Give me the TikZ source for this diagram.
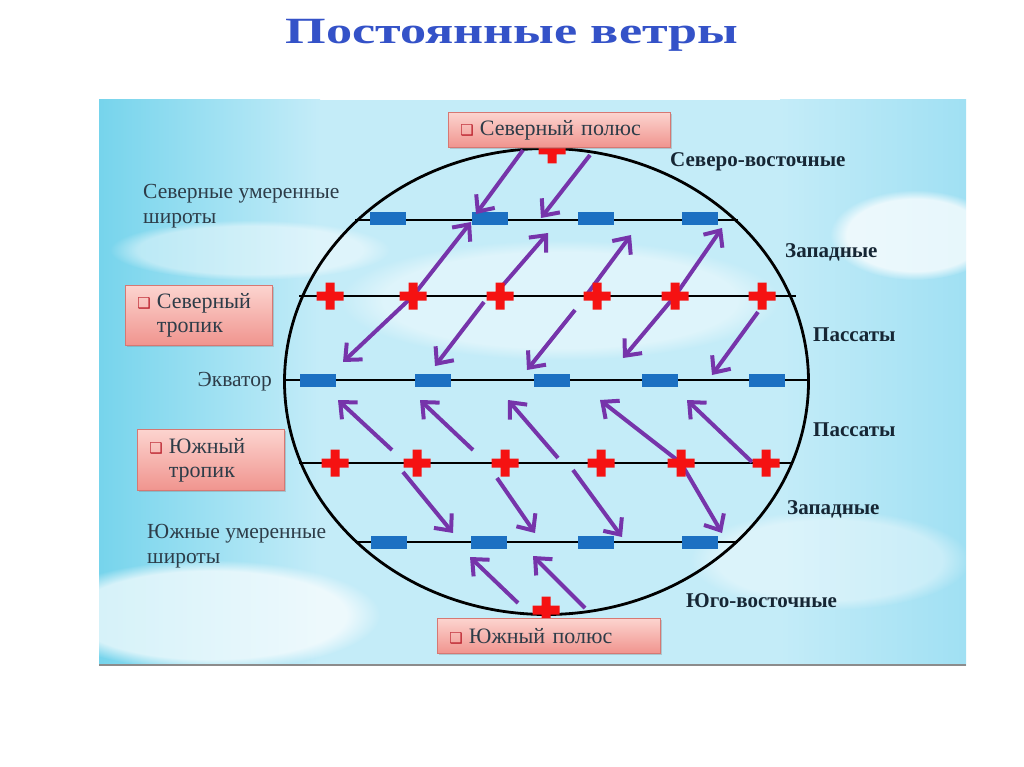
\documentclass[tikz,border=0pt]{standalone}
\usepackage{fontspec}
\usepackage{graphicx}
\setmainfont{Liberation Serif}
\newfontfamily\djv{DejaVu Sans}
\usetikzlibrary{arrows.meta,shadows,fadings,shapes.geometric}
\definecolor{windc}{RGB}{118,52,170}
\definecolor{lowblue}{RGB}{28,112,194}
\definecolor{hired}{RGB}{245,18,18}
\definecolor{skyA}{RGB}{118,212,236}
\definecolor{skyB}{RGB}{196,236,248}
\definecolor{skyC}{RGB}{160,224,243}
\definecolor{pinktop}{RGB}{252,212,207}
\definecolor{pinkbot}{RGB}{240,148,142}
\definecolor{pinkline}{RGB}{214,120,115}
\definecolor{labeltext}{RGB}{45,60,72}
\definecolor{boldtext}{RGB}{22,38,52}
\definecolor{titleblue}{RGB}{52,82,200}
\definecolor{bulletred}{RGB}{185,28,40}
\begin{document}
\begin{tikzpicture}[x=1pt,y=-1pt,
  wind/.style={draw=windc, line width=4pt, -{Straight Barb[length=13pt,width=23pt,line width=4pt]}},
  lat/.style={draw=black, line width=2.6pt},
  low/.style={fill=lowblue, minimum width=36pt, minimum height=13pt, inner sep=0pt},
  hi/.style={minimum size=27pt, inner sep=0pt},
  pinkbox/.style={draw=pinkline, line width=0.8pt, top color=pinktop, bottom color=pinkbot,
     drop shadow={shadow xshift=2pt, shadow yshift=-2pt, opacity=0.35},
     inner xsep=12pt, inner ysep=0pt, align=left, anchor=north west, text=labeltext,
     font=\fontsize{22}{24}\selectfont},
  leftlab/.style={text=labeltext, align=left, inner sep=0pt, font=\fontsize{21.5}{25}\selectfont},
  rightlab/.style={text=boldtext, inner sep=0pt, anchor=west, font=\bfseries\fontsize{21}{25}\selectfont}
]
\newcommand{\blt}{{\djv\fontsize{15}{15}\selectfont\color{bulletred}❑}\hspace{6pt}}
\newcommand{\bltsp}{\phantom{\blt}}
\useasboundingbox (0,0) rectangle (1024,767);
\fill[white] (0,0) rectangle (1024,767);
% sky panel
\fill[skyB] (99,100) rectangle (966,665);
\shade[left color=skyA, right color=skyB] (99,100) rectangle (320,665);
\shade[left color=skyB, right color=skyC] (780,100) rectangle (966,665);
\fill[white, opacity=0.7, path fading=circle with fuzzy edge 20 percent] (210,615) ellipse [x radius=170pt, y radius=55pt];
\fill[white, opacity=0.75, path fading=circle with fuzzy edge 20 percent] (915,235) ellipse [x radius=85pt, y radius=45pt];
\fill[white, opacity=0.45, path fading=circle with fuzzy edge 20 percent] (250,250) ellipse [x radius=140pt, y radius=30pt];
\fill[white, opacity=0.45, path fading=circle with fuzzy edge 20 percent] (560,300) ellipse [x radius=220pt, y radius=60pt];
\fill[white, opacity=0.4, path fading=circle with fuzzy edge 20 percent] (830,560) ellipse [x radius=140pt, y radius=50pt];
\draw[black!45, line width=2pt] (99,665) -- (966,665);

% title
\node[font=\bfseries\fontsize{37}{40}\selectfont, text=titleblue, anchor=base, inner sep=0pt] (title) at (512,44)
  {\scalebox{1.41}[1]{Постоянные ветры}};

% globe
\node[draw=black, line width=2.8pt, ellipse, minimum width=524pt, minimum height=466pt, inner sep=0pt] (globe) at (546.5,381.5) {};

% latitude lines
\coordinate (ntW) at (355,220);  \coordinate (ntE) at (738,220);
\coordinate (ntrW) at (299,296); \coordinate (ntrE) at (796,296);
\coordinate (eqW) at (284,380);  \coordinate (eqE) at (810,380);
\coordinate (strW) at (299,463); \coordinate (strE) at (793,463);
\coordinate (stW) at (355,542);  \coordinate (stE) at (738,542);
\draw[lat] (ntW) -- (ntE);
\draw[lat] (ntrW) -- (ntrE);
\draw[lat] (eqW) -- (eqE);
\draw[lat] (strW) -- (strE);
\draw[lat] (stW) -- (stE);

% lows
\node[low] (nl1) at (388,219) {};
\node[low] (nl2) at (490,219) {};
\node[low] (nl3) at (596,219) {};
\node[low] (nl4) at (700,219) {};
\node[low] (el1) at (318,380) {};
\node[low] (el2) at (433,380) {};
\node[low] (el3) at (552,380) {};
\node[low] (el4) at (660,380) {};
\node[low] (el5) at (767,380) {};
\node[low] (sl1) at (389,542) {};
\node[low] (sl2) at (489,542) {};
\node[low] (sl3) at (596,542) {};
\node[low] (sl4) at (700,542) {};

% highs (positions)
\node[hi] (np) at (552,150) {};
\node[hi] (nh1) at (330,296) {};
\node[hi] (nh2) at (413,296) {};
\node[hi] (nh3) at (500,296) {};
\node[hi] (nh4) at (597,296) {};
\node[hi] (nh5) at (675,296) {};
\node[hi] (nh6) at (762,296) {};
\node[hi] (sh1) at (335,463) {};
\node[hi] (sh2) at (417,463) {};
\node[hi] (sh3) at (505,463) {};
\node[hi] (sh4) at (601,463) {};
\node[hi] (sh5) at (681,463) {};
\node[hi] (sh6) at (766,463) {};
\node[hi] (sp) at (546,610) {};

% wind end points
\coordinate (pa1) at (523,150); \coordinate (pa1t) at (476,214);
\coordinate (pa2) at (590,155); \coordinate (pa2t) at (541,218);
\coordinate (w1t) at (471,222);
\coordinate (w2) at (503,285);  \coordinate (w2t) at (548,233);
\coordinate (w3) at (588,293);  \coordinate (w3t) at (631,235);
\coordinate (w4t) at (722,228);
\coordinate (t1t) at (343,362);
\coordinate (t2) at (484,302);  \coordinate (t2t) at (435,366);
\coordinate (t3) at (575,310);  \coordinate (t3t) at (527,370);
\coordinate (t4t) at (623,358);
\coordinate (t5) at (758,312);  \coordinate (t5t) at (712,375);
\coordinate (s1) at (392,450);  \coordinate (s1t) at (338,400);
\coordinate (s2) at (473,450);  \coordinate (s2t) at (420,400);
\coordinate (s3) at (558,458);  \coordinate (s3t) at (508,400);
\coordinate (s4t) at (600,400);
\coordinate (s5) at (752,462);  \coordinate (s5t) at (687,400);
\coordinate (v1) at (403,472);  \coordinate (v1t) at (453,533);
\coordinate (v2) at (497,478);  \coordinate (v2t) at (535,533);
\coordinate (v3) at (573,470);  \coordinate (v3t) at (622,537);
\coordinate (v4t) at (722,533);
\coordinate (q1) at (518,603);  \coordinate (q1t) at (470,557);
\coordinate (q2) at (585,608);  \coordinate (q2t) at (533,556);

% winds
\draw[wind] (pa1) -- (pa1t);
\draw[wind] (pa2) -- (pa2t);
\draw[wind] (nh2.center) -- (w1t);
\draw[wind] (w2) -- (w2t);
\draw[wind] (w3) -- (w3t);
\draw[wind] (nh5.center) -- (w4t);
\draw[wind] (nh2.center) -- (t1t);
\draw[wind] (t2) -- (t2t);
\draw[wind] (t3) -- (t3t);
\draw[wind] (nh5.center) -- (t4t);
\draw[wind] (t5) -- (t5t);
\draw[wind] (s1) -- (s1t);
\draw[wind] (s2) -- (s2t);
\draw[wind] (s3) -- (s3t);
\draw[wind] (sh5.center) -- (s4t);
\draw[wind] (s5) -- (s5t);
\draw[wind] (v1) -- (v1t);
\draw[wind] (v2) -- (v2t);
\draw[wind] (v3) -- (v3t);
\draw[wind] (sh5.center) -- (v4t);
\draw[wind] (q1) -- (q1t);
\draw[wind] (q2) -- (q2t);

% red crosses drawn on the high nodes
\foreach \n in {np,nh1,nh2,nh3,nh4,nh5,nh6,sh1,sh2,sh3,sh4,sh5,sh6,sp} {
  \fill[hired] ([xshift=-13.5pt,yshift=-4.5pt]\n.center) rectangle ([xshift=13.5pt,yshift=4.5pt]\n.center)
               ([xshift=-4.5pt,yshift=-13.5pt]\n.center) rectangle ([xshift=4.5pt,yshift=13.5pt]\n.center);
}

% pink boxes
\node[pinkbox, minimum width=222pt, minimum height=35pt, text width=198pt] (npbox) at (448,112) {\blt Северный полюс};
\node[pinkbox, minimum width=147pt, minimum height=60pt, text width=123pt] (ntbox) at (125,285) {\blt Северный\\\bltsp тропик};
\node[pinkbox, minimum width=147pt, minimum height=61pt, text width=123pt] (stbox) at (137,429) {\blt Южный\\\bltsp тропик};
\node[pinkbox, minimum width=223pt, minimum height=35pt, text width=199pt] (spbox) at (437,618) {\blt Южный полюс};

% left labels
\node[leftlab, anchor=west] (ntemp) at (143,206) {Северные умеренные\\широты};
\node[leftlab, anchor=east] (eqlab) at (272,382) {Экватор};
\node[leftlab, anchor=west] (stemp) at (147,546) {Южные умеренные\\широты};

% right labels
\node[rightlab] (r1) at (670,162) {Северо-восточные};
\node[rightlab] (r2) at (785,252) {Западные};
\node[rightlab] (r3) at (813,335) {Пассаты};
\node[rightlab] (r4) at (813,430) {Пассаты};
\node[rightlab] (r5) at (787,509) {Западные};
\node[rightlab] (r6) at (686,601) {Юго-восточные};
\end{tikzpicture}
\end{document}
